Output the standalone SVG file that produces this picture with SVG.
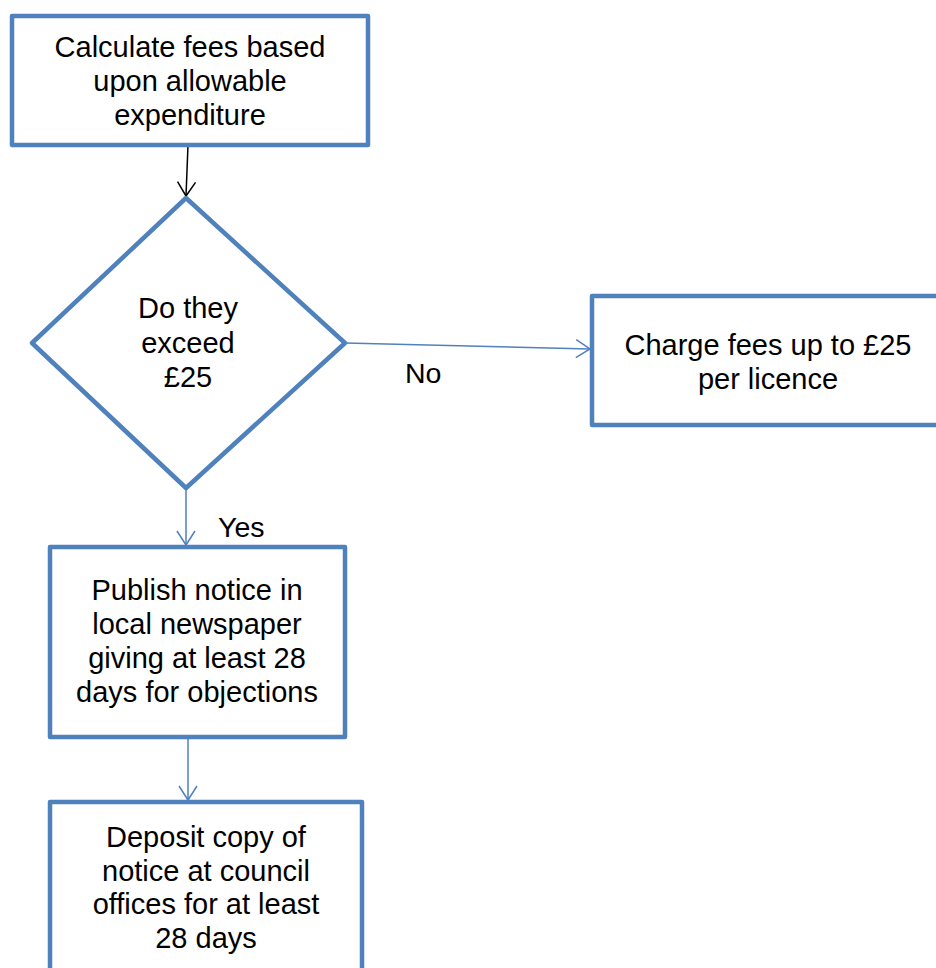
<svg xmlns="http://www.w3.org/2000/svg" width="936" height="968" viewBox="0 0 936 968">
<style>
.box{fill:#fff;stroke:#4F81BD;stroke-width:4.5;stroke-linejoin:round}
.t{font-family:"Liberation Sans",Arial,sans-serif;font-size:29px;fill:#000;text-anchor:middle}
.lbl{font-family:"Liberation Sans",Arial,sans-serif;font-size:28.5px;fill:#000}
.conn{fill:none;stroke:#4F81BD;stroke-width:1.5}
.connk{fill:none;stroke:#000;stroke-width:1.5}
</style>
<defs>
<marker id="ab" markerWidth="30" markerHeight="30" refX="15" refY="10" orient="auto" markerUnits="userSpaceOnUse" viewBox="0 0 30 20">
<path d="M1,1 L15,10 L1,19" fill="none" stroke="#4F81BD" stroke-width="1.5"/>
</marker>
<marker id="ak" markerWidth="30" markerHeight="30" refX="15" refY="10" orient="auto" markerUnits="userSpaceOnUse" viewBox="0 0 30 20">
<path d="M1,1 L15,10 L1,19" fill="none" stroke="#000" stroke-width="1.5"/>
</marker>
</defs>
<rect width="936" height="968" fill="#fff"/>
<g id="connectors">
<path class="connk" d="M188,145 L186,196" marker-end="url(#ak)"/>
<path class="conn" d="M345,343 L590,349" marker-end="url(#ab)"/>
<path class="conn" d="M186,488 L186,545" marker-end="url(#ab)"/>
<path class="conn" d="M188,737 L188,800" marker-end="url(#ab)"/>
<text class="lbl" x="405" y="383">No</text>
<text class="lbl" x="218" y="537">Yes</text>
</g>
<g id="n1">
<rect class="box" x="12" y="16" width="356" height="129"/>
<text class="t" x="190" y="57">Calculate fees based</text>
<text class="t" x="190" y="91">upon allowable</text>
<text class="t" x="190" y="125">expenditure</text>
</g>
<g id="n2">
<polygon class="box" points="186,198 345,343 186,488 32,343"/>
<text class="t" x="188" y="318">Do they</text>
<text class="t" x="188" y="353">exceed</text>
<text class="t" x="188" y="387">£25</text>
</g>
<g id="n3">
<rect class="box" x="592" y="296" width="360" height="129"/>
<text class="t" x="768" y="355">Charge fees up to £25</text>
<text class="t" x="768" y="389">per licence</text>
</g>
<g id="n4">
<rect class="box" x="50" y="547" width="295" height="190"/>
<text class="t" x="197" y="600">Publish notice in</text>
<text class="t" x="197" y="634">local newspaper</text>
<text class="t" x="197" y="668">giving at least 28</text>
<text class="t" x="197" y="702">days for objections</text>
</g>
<g id="n5">
<rect class="box" x="50" y="802" width="312" height="190"/>
<text class="t" x="206" y="847">Deposit copy of</text>
<text class="t" x="206" y="881">notice at council</text>
<text class="t" x="206" y="914">offices for at least</text>
<text class="t" x="206" y="948">28 days</text>
</g>
</svg>
